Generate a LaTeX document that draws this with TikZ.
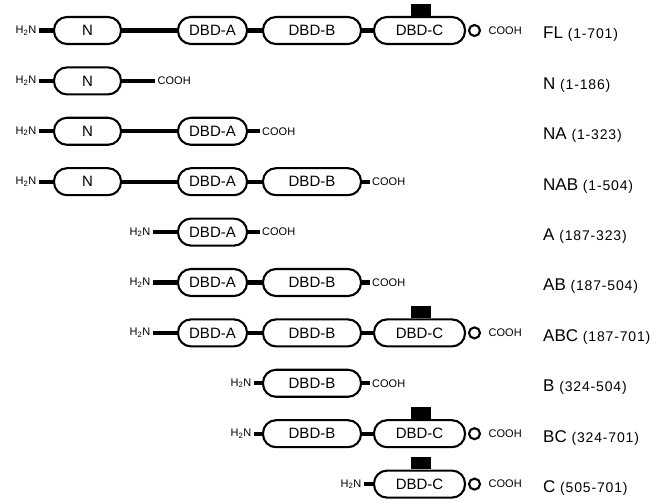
\documentclass[tikz,border=0pt]{standalone}
\usepackage{fontspec}
\setmainfont{Liberation Sans}
\newfontfamily\rangefont[LetterSpace=6]{Liberation Sans}
\usetikzlibrary{positioning}
\tikzset{
  dombox/.style={draw, line width=2.1pt, rounded corners=13pt, minimum height=27pt, inner sep=0pt, font=\fontsize{15}{18}\selectfont},
  linkerline/.style={line width=4.2pt},
  termtext/.style={inner xsep=2.5pt, inner ysep=0.5pt, font=\fontsize{11}{13}\selectfont},
  ringbox/.style={draw, circle, line width=2.1pt, minimum size=11pt, inner sep=0pt},
  motifbox/.style={fill=black, minimum width=20pt, minimum height=12pt, inner sep=0pt, anchor=south},
  namelabel/.style={anchor=base west, inner sep=0pt, font=\fontsize{17}{20}\selectfont},
}
% domain boxes: #1 row prefix, #2 row height
\newcommand{\domN}[2]{\node[dombox,minimum width=67pt] (#1-n) at (87.5,#2) {N};}
\newcommand{\domA}[2]{\node[dombox,minimum width=69pt] (#1-a) at (212.5,#2) {DBD-A};}
\newcommand{\domB}[2]{\node[dombox,minimum width=98pt] (#1-b) at (312,#2) {DBD-B};}
\newcommand{\domC}[2]{%
  \node[dombox,minimum width=91pt] (#1-c) at (419.5,#2) {DBD-C};%
  \node[motifbox,xshift=1pt] (#1-motif) at (#1-c.north) {};%
  \node[ringbox] (#1-ring) at (474.5,#2) {};%
}
% termini and labels
\newcommand{\nterm}[3]{\node[termtext,anchor=east] (#1-h2n) at (#2,#3) {H\textsubscript{2}N};}
\newcommand{\cterm}[3]{\node[termtext,anchor=west] (#1-cooh) at (#2,#3) {COOH};}
\newcommand{\constructname}[4]{\node[namelabel] (#1-name) at (543,#2+8.5) {#3 {\rangefont\fontsize{14}{17}\selectfont(#4)}};}

\begin{document}
\begin{tikzpicture}[x=1pt,y=-1pt]
  \useasboundingbox (0,0) rectangle (657,502);
  % FL
  \nterm{fl}{39}{30.5} \domN{fl}{30.5} \domA{fl}{30.5} \domB{fl}{30.5} \domC{fl}{30.5}
  \cterm{fl}{486}{30.5}
  \draw[linkerline] (fl-h2n) -- (fl-n) (fl-n) -- (fl-a) (fl-a) -- (fl-b) (fl-b) -- (fl-c);
  \constructname{fl}{30.5}{FL}{1-701}
  % N
  \nterm{n}{39}{80.9} \domN{n}{80.9}
  \cterm{n}{155}{80.9}
  \draw[linkerline] (n-h2n) -- (n-n) (n-n) -- (n-cooh);
  \constructname{n}{80.9}{N}{1-186}
  % NA
  \nterm{na}{39}{131.3} \domN{na}{131.3} \domA{na}{131.3}
  \cterm{na}{259.5}{131.3}
  \draw[linkerline] (na-h2n) -- (na-n) (na-n) -- (na-a) (na-a) -- (na-cooh);
  \constructname{na}{131.3}{NA}{1-323}
  % NAB
  \nterm{nab}{39}{181.7} \domN{nab}{181.7} \domA{nab}{181.7} \domB{nab}{181.7}
  \cterm{nab}{369.5}{181.7}
  \draw[linkerline] (nab-h2n) -- (nab-n) (nab-n) -- (nab-a) (nab-a) -- (nab-b) (nab-b) -- (nab-cooh);
  \constructname{nab}{181.7}{NAB}{1-504}
  % A
  \nterm{a}{153}{232.1} \domA{a}{232.1}
  \cterm{a}{259.5}{232.1}
  \draw[linkerline] (a-h2n) -- (a-a) (a-a) -- (a-cooh);
  \constructname{a}{232.1}{A}{187-323}
  % AB
  \nterm{ab}{153}{282.5} \domA{ab}{282.5} \domB{ab}{282.5}
  \cterm{ab}{369.5}{282.5}
  \draw[linkerline] (ab-h2n) -- (ab-a) (ab-a) -- (ab-b) (ab-b) -- (ab-cooh);
  \constructname{ab}{282.5}{AB}{187-504}
  % ABC
  \nterm{abc}{153}{332.9} \domA{abc}{332.9} \domB{abc}{332.9} \domC{abc}{332.9}
  \cterm{abc}{486}{332.9}
  \draw[linkerline] (abc-h2n) -- (abc-a) (abc-a) -- (abc-b) (abc-b) -- (abc-c);
  \constructname{abc}{332.9}{ABC}{187-701}
  % B
  \nterm{b}{254}{383.3} \domB{b}{383.3}
  \cterm{b}{369.5}{383.3}
  \draw[linkerline] (b-h2n) -- (b-b) (b-b) -- (b-cooh);
  \constructname{b}{383.3}{B}{324-504}
  % BC
  \nterm{bc}{254}{433.7} \domB{bc}{433.7} \domC{bc}{433.7}
  \cterm{bc}{486}{433.7}
  \draw[linkerline] (bc-h2n) -- (bc-b) (bc-b) -- (bc-c);
  \constructname{bc}{433.7}{BC}{324-701}
  % C
  \nterm{c}{364}{484.1} \domC{c}{484.1}
  \cterm{c}{486}{484.1}
  \draw[linkerline] (c-h2n) -- (c-c);
  \constructname{c}{484.1}{C}{505-701}
\end{tikzpicture}
\end{document}
